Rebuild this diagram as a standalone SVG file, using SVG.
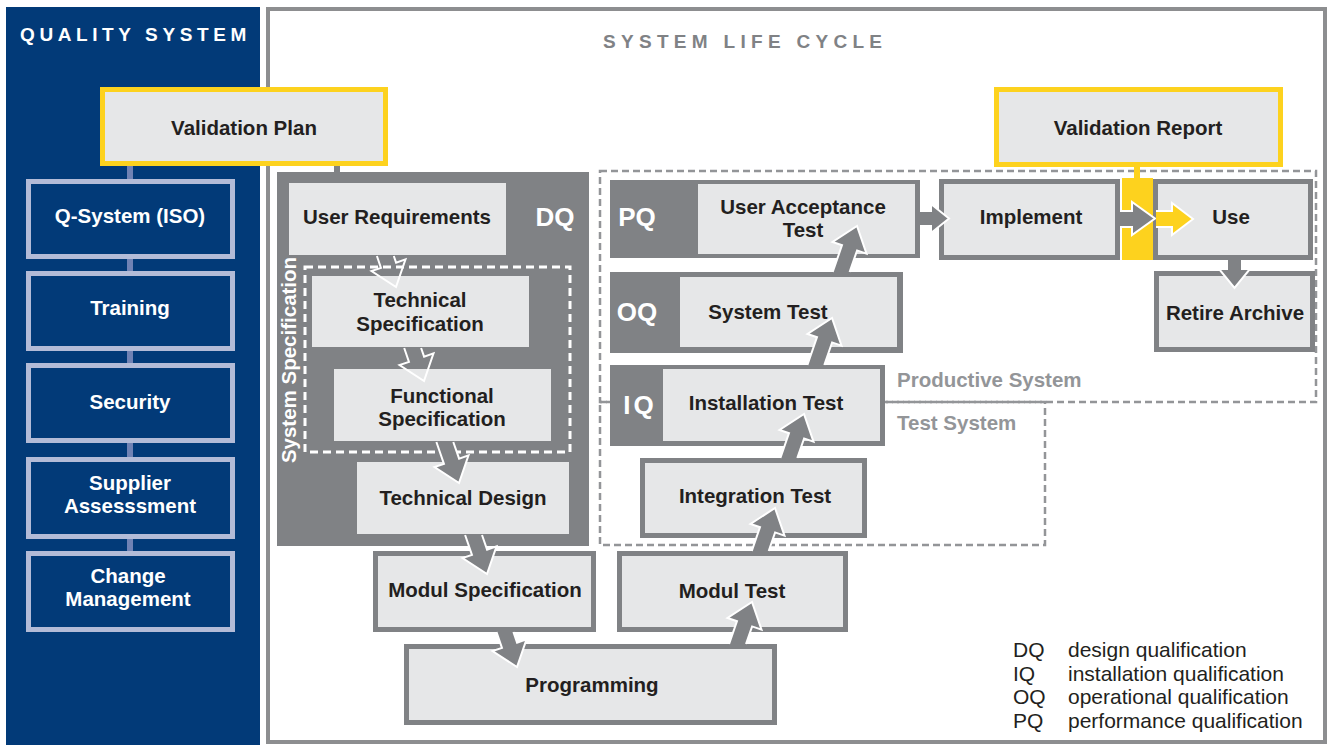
<svg xmlns="http://www.w3.org/2000/svg" width="1330" height="745" viewBox="0 0 1330 745">
<style>
text{font-family:"Liberation Sans",Arial,sans-serif;}
.t{font-weight:bold;font-size:20.5px;fill:#231f20;text-anchor:middle;}
.w{font-weight:bold;font-size:20.5px;fill:#ffffff;text-anchor:middle;}
.q{font-weight:bold;font-size:26px;fill:#ffffff;text-anchor:middle;}
.hd{font-weight:bold;font-size:19px;}
.gl{font-weight:bold;font-size:20.5px;fill:#939598;}
.lg{font-size:21px;fill:#231f20;}
.box{fill:#e6e7e8;stroke:#808285;stroke-width:5;}
.yb{fill:#e6e7e8;stroke:#fdd21e;stroke-width:5;}
.bb{fill:#023a78;stroke:#b3bbd7;stroke-width:5;}
.in{fill:#e6e7e8;}
.dk{fill:#808285;}
.arr{fill:#808285;stroke:none;}
.ol{fill:none;stroke:#ffffff;stroke-width:2;stroke-linejoin:miter;}
.gd{fill:none;stroke:#939598;stroke-width:2.5;stroke-dasharray:7 4;}
</style>

<!-- panels -->
<rect x="6" y="7" width="254" height="738" fill="#023a78"/>
<rect x="268" y="9" width="1057" height="733" fill="#ffffff" stroke="#8d8e90" stroke-width="4"/>
<text class="hd" x="20" y="41" fill="#ffffff" letter-spacing="4.6">QUALITY SYSTEM</text>
<text class="hd" x="603" y="48" fill="#808285" letter-spacing="5.3">SYSTEM LIFE CYCLE</text>

<!-- system areas -->
<g id="productive-system">
<rect class="gd" x="600" y="171" width="716" height="231"/>
<text class="gl" x="897" y="387">Productive System</text>
</g>
<g id="test-system">
<rect class="gd" x="600" y="402" width="445" height="143"/>
<text class="gl" x="897" y="430">Test System</text>
</g>

<!-- DQ block -->
<g id="dq">
<rect class="dk" x="277" y="172" width="312" height="374"/>
<text class="q" x="555" y="226">DQ</text>
</g>
<g id="system-specification">
<rect x="305" y="267" width="265" height="185" fill="none" stroke="#ffffff" stroke-width="3" stroke-dasharray="8 5"/>
<text class="w" transform="translate(296 360) rotate(-90)" font-size="17.5px">System Specification</text>
</g>
<g id="user-requirements">
<rect class="in" x="289" y="183" width="217" height="72"/>
<text class="t" x="397" y="224">User Requirements</text>
</g>
<g id="technical-specification">
<rect class="in" x="312" y="276" width="217" height="71"/>
<text class="t" x="420" y="307">Technical</text>
<text class="t" x="420" y="331">Specification</text>
</g>
<g id="functional-specification">
<rect class="in" x="334" y="369" width="217" height="72"/>
<text class="t" x="442" y="403">Functional</text>
<text class="t" x="442" y="426">Specification</text>
</g>
<g id="technical-design">
<rect class="in" x="357" y="462" width="212" height="72"/>
<text class="t" x="463" y="505">Technical Design</text>
</g>

<!-- V bottom -->
<g id="modul-specification">
<rect class="box" x="375.5" y="553.5" width="218" height="76"/>
<text class="t" x="485" y="597">Modul Specification</text>
</g>
<g id="programming">
<rect class="box" x="406.5" y="646.5" width="368" height="76"/>
<text class="t" x="592" y="692">Programming</text>
</g>
<g id="modul-test">
<rect class="box" x="619.5" y="553.5" width="226" height="76"/>
<text class="t" x="732" y="598">Modul Test</text>
</g>
<g id="integration-test">
<rect class="box" x="642.5" y="460.5" width="222" height="75"/>
<text class="t" x="755" y="503">Integration Test</text>
</g>

<!-- qualification stages -->
<g id="installation-test">
<rect class="dk" x="610" y="365" width="275" height="81"/>
<rect class="in" x="663" y="369" width="217" height="72"/>
<text class="q" x="640" y="414" letter-spacing="3">IQ</text>
<text class="t" x="766" y="410">Installation Test</text>
</g>
<g id="system-test">
<rect class="dk" x="610" y="272" width="293" height="81"/>
<rect class="in" x="680" y="277" width="217" height="70"/>
<text class="q" x="637" y="321">OQ</text>
<text class="t" x="768" y="319">System Test</text>
</g>
<g id="user-acceptance-test">
<rect class="dk" x="610" y="180" width="310" height="78"/>
<rect class="in" x="698" y="184" width="217" height="70"/>
<text class="q" x="637" y="226">PQ</text>
<text class="t" x="803" y="214">User Acceptance</text>
<text class="t" x="803" y="237">Test</text>
</g>

<g id="implement">
<rect class="box" x="941.5" y="181.5" width="176" height="76"/>
<text class="t" x="1031" y="224">Implement</text>
</g>
<g id="validation-gate">
<rect x="1122" y="178" width="31" height="82" fill="#fdd21e"/>
</g>
<g id="use">
<rect class="box" x="1155.5" y="181.5" width="155" height="76"/>
<text class="t" x="1231" y="224">Use</text>
</g>
<g id="retire-archive">
<rect class="box" x="1156.5" y="273.5" width="156" height="76"/>
<text class="t" x="1235" y="320">Retire Archive</text>
</g>

<g id="validation-plan">
<rect class="yb" x="102.5" y="89.5" width="283" height="74"/>
<text class="t" x="244" y="135">Validation Plan</text>
</g>
<g id="validation-report">
<rect class="yb" x="996.5" y="89.5" width="284" height="75"/>
<text class="t" x="1138" y="135">Validation Report</text>
</g>

<!-- quality system -->
<g id="q-system">
<rect class="bb" x="28.5" y="181.5" width="204" height="75"/>
<text class="w" x="130" y="223">Q-System (ISO)</text>
</g>
<g id="training">
<rect class="bb" x="28.5" y="273.5" width="204" height="75"/>
<text class="w" x="130" y="315">Training</text>
</g>
<g id="security">
<rect class="bb" x="28.5" y="365.5" width="204" height="75"/>
<text class="w" x="130" y="409">Security</text>
</g>
<g id="supplier-assessment">
<rect class="bb" x="28.5" y="459.5" width="204" height="77"/>
<text class="w" x="130" y="490">Supplier</text>
<text class="w" x="130" y="513">Assesssment</text>
</g>
<g id="change-management">
<rect class="bb" x="28.5" y="553.5" width="204" height="76"/>
<text class="w" x="128" y="583">Change</text>
<text class="w" x="128" y="606">Management</text>
</g>

<!-- legend -->
<g id="legend">
<text class="lg" x="1013" y="657">DQ</text><text class="lg" x="1068" y="657">design qualification</text>
<text class="lg" x="1013" y="681">IQ</text><text class="lg" x="1068" y="681">installation qualification</text>
<text class="lg" x="1013" y="704">OQ</text><text class="lg" x="1068" y="704">operational qualification</text>
<text class="lg" x="1013" y="728">PQ</text><text class="lg" x="1068" y="728">performance qualification</text>
</g>

<!-- connectors -->
<g id="connectors">
<g stroke="#7082b4" stroke-width="6">
<line x1="130" y1="166" x2="130" y2="179"/>
<line x1="130" y1="259" x2="130" y2="271"/>
<line x1="130" y1="351" x2="130" y2="363"/>
<line x1="130" y1="443" x2="130" y2="457"/>
<line x1="130" y1="539" x2="130" y2="551"/>
</g>
<line x1="337" y1="166" x2="337" y2="172" stroke="#808285" stroke-width="6"/>
<line x1="1137" y1="167" x2="1137" y2="178" stroke="#fdd21e" stroke-width="6"/>

<!-- down arrows (design side) -->
<polyline class="ol" points="376.9,256 380.95,267.85 371.5,271.1 396,287 405.5,259.4 396.1,262.65 393.8,256"/>
<polyline class="ol" points="404.2,348 408.95,361.85 399.5,365.1 424,381 433.5,353.4 424.1,356.65 421.1,348"/>
<polygon class="arr" points="436.4,442 443.95,463.85 434.5,467.1 459,483 468.5,455.4 459.1,458.65 453.3,442"/>
<polyline class="ol" points="436.4,442 443.95,463.85 434.5,467.1 459,483 468.5,455.4 459.1,458.65 453.3,442"/>
<polygon class="arr" points="465.1,535 471.95,554.85 462.5,558.1 487,574 496.5,546.4 487.1,549.65 482,535"/>
<polyline class="ol" points="465.1,535 471.95,554.85 462.5,558.1 487,574 496.5,546.4 487.1,549.65 482,535"/>
<polygon class="arr" points="495.8,630 501.95,647.85 492.5,651.1 517,667 526.5,639.4 517.1,642.65 512.7,630"/>
<polyline class="ol" points="496.5,632 501.95,647.85 492.5,651.1 517,667 526.5,639.4 517.1,642.65 513.4,632"/>

<!-- up arrows (test side) -->
<polygon class="arr" points="752,602 761.5,629.6 752.1,626.4 745.3,646 728.4,646 737,621.2 727.5,617.9"/>
<polyline class="ol" points="729.1,644 737,621.2 727.5,617.9 752,602 761.5,629.6 752.1,626.4 746,644"/>
<polygon class="arr" points="775,508 784.5,535.6 775.1,532.4 768,553 751.1,553 760,527.2 750.5,523.9"/>
<polyline class="ol" points="751.8,551 760,527.2 750.5,523.9 775,508 784.5,535.6 775.1,532.4 768.7,551"/>
<polygon class="arr" points="804,414 813.5,441.6 804.1,438.4 796.6,460 779.7,460 789,433.2 779.5,429.9"/>
<polyline class="ol" points="780.4,458 789,433.2 779.5,429.9 804,414 813.5,441.6 804.1,438.4 797.3,458"/>
<polygon class="arr" points="832,318 841.5,345.6 832.1,342.4 823.6,367 806.7,367 817,337.2 807.5,333.9"/>
<polyline class="ol" points="807.4,365 817,337.2 807.5,333.9 832,318 841.5,345.6 832.1,342.4 824.3,365"/>
<polygon class="arr" points="857,226 866.5,253.6 857.1,250.4 848.9,274 832,274 842,245.2 832.5,241.9"/>
<polyline class="ol" points="832.7,272 842,245.2 832.5,241.9 857,226 866.5,253.6 857.1,250.4 849.6,272"/>

<!-- horizontal arrows -->
<polygon class="arr" points="918,211 931,211 931,204 949,218.5 931,233 931,226 918,226"/>
<polyline class="ol" points="920,211 931,211 931,204 949,218.5 931,233 931,226 920,226"/>
<polygon class="arr" points="1118,211 1132,211 1132,202 1155,218.5 1132,235 1132,227 1118,227"/>
<polyline class="ol" points="1120,211 1132,211 1132,202 1155,218.5 1132,235 1132,227 1120,227"/>
<polygon points="1156,211 1172,211 1172,203 1193,219 1172,235 1172,227 1156,227" fill="#fdd21e"/>
<polyline class="ol" points="1156,211 1172,211 1172,203 1193,219 1172,235 1172,227 1156,227"/>

<!-- use to retire -->
<polygon class="arr" points="1227,258 1242,258 1242,269 1250,269 1234.5,288 1219,269 1227,269"/>
<polyline class="ol" points="1227,260 1227,269 1219,269 1234.5,288 1250,269 1242,269 1242,260"/>
</g>
</svg>
